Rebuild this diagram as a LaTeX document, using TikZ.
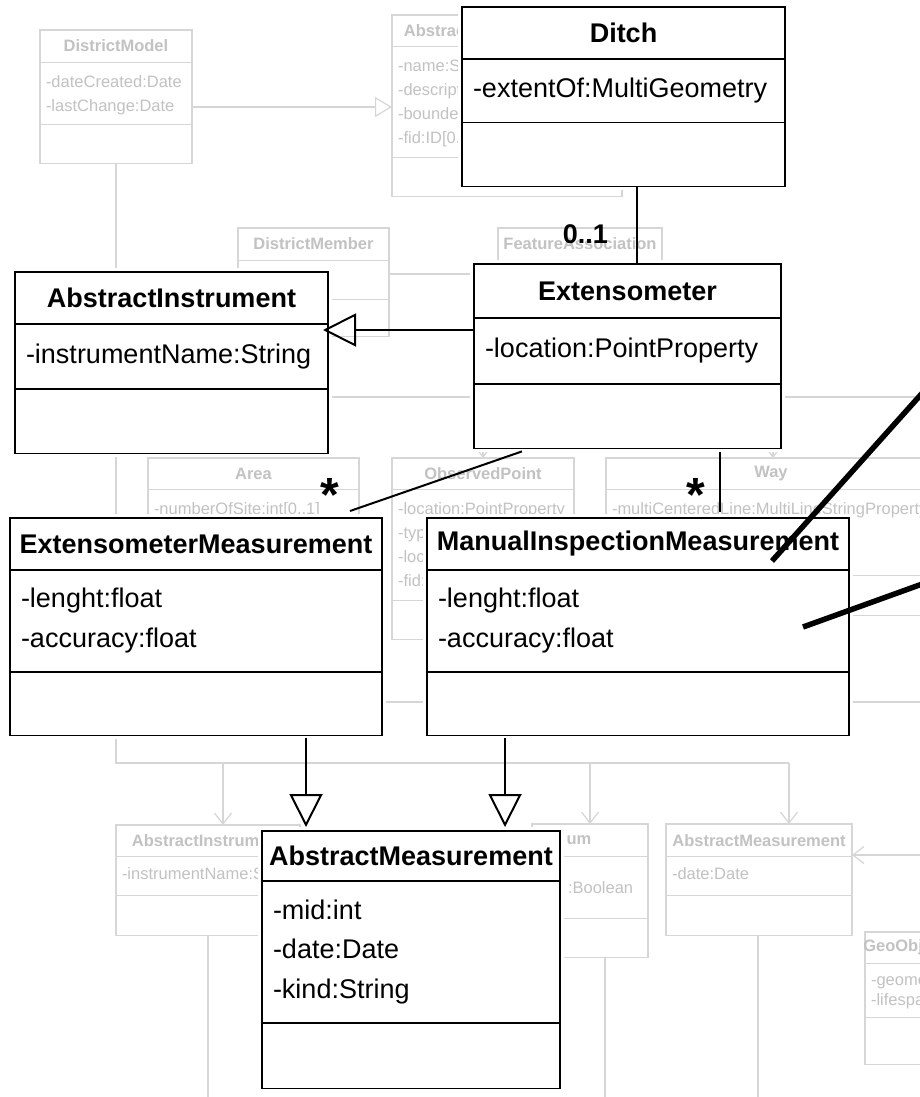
\documentclass[tikz,border=0pt]{standalone}
\usepackage{fontspec}
\setmainfont{Liberation Sans}
\usetikzlibrary{shapes.multipart,arrows.meta}
\newcommand{\cpt}[4][c]{\parbox[c][#3][#1]{#2}{#4}}
\newcommand{\ttl}[3]{\parbox[c][#2][c]{#1}{\centering\makebox[0pt]{\bfseries #3}}}
\begin{document}
\begin{tikzpicture}[x=1pt, y=-1pt,
    cls/.style={rectangle split, rectangle split parts=3, draw, fill=white, line width=1.8pt, inner xsep=11pt, inner ysep=0pt, outer sep=0pt, anchor=north west, font=\fontsize{27}{39.5}\selectfont, preaction={draw=white, line width=8pt}},
    gcls/.style={rectangle split, rectangle split parts=3, draw=black!16, fill=white, line width=1.2pt, text=black!24, inner xsep=6pt, inner ysep=0pt, outer sep=0pt, anchor=north west, font=\fontsize{16.5}{24}\selectfont},
    gline/.style={draw=black!16, line width=1.2pt},
    garrow/.style={gline, -{Straight Barb[length=11pt, width=17pt]}},
    ggen/.style={gline, -{Triangle[open, length=17pt, width=20pt]}},
    assoc/.style={line width=2pt},
    gen/.style={line width=1.5pt, -{Triangle[open, length=33pt, width=33pt, line width=2pt]}},
    lbl/.style={font=\bfseries\fontsize{27}{27}\selectfont, inner sep=0pt},
    mult/.style={font=\bfseries\fontsize{48}{48}\selectfont, inner sep=0pt},
    pointer/.style={line width=5.5pt}]
\clip (0,0) rectangle (920,1097);
\useasboundingbox (0,0) rectangle (920,1097);
\fill[white] (0,0) rectangle (920,1097);

\coordinate (busL) at (116,763);
\coordinate (busR) at (789,763);
\coordinate (s1) at (300,397);
\coordinate (s2) at (200,702);
\coordinate (e1) at (930,397);
\coordinate (e2) at (930,702);
\coordinate (e3) at (0,1100);
\coordinate (e4) at (930,855);

\node[gcls] (dm) at (40,30) {\ttl{140pt}{31pt}{DistrictModel}\nodepart{two}\cpt[t]{140pt}{61pt}{\vspace*{13pt}\mbox{-dateCreated:Date}\\\mbox{-lastChange:Date}}\nodepart{three}\cpt{140pt}{38pt}{}};
\node[gcls] (af) at (392,15) {\ttl{218pt}{30pt}{AbstractFeatureCollection}\nodepart{two}\cpt[t]{218pt}{110pt}{\vspace*{13pt}-name:String\\-description:String\\-boundedBy:Envelope\\-fid:ID[0..1]}\nodepart{three}\cpt{218pt}{38pt}{}};
\node[gcls] (dmem) at (238,228) {\ttl{139pt}{31pt}{DistrictMember}\nodepart{two}\cpt{139pt}{38pt}{}\nodepart{three}\cpt{139pt}{36pt}{}};
\node[gcls] (fa) at (498,228) {\ttl{152pt}{31pt}{FeatureAssociation}\nodepart{two}\cpt{152pt}{70pt}{}\nodepart{three}\cpt{152pt}{70pt}{}};

\draw[ggen] ([yshift=-77pt]dm.north east) -- ([yshift=-77pt]dm.north east -| af.north west);
\draw[gline] ([xshift=76pt]dm.south west) -- (busL) -- (busR);
\draw[gline] ([yshift=-46pt]dmem.north east) -- ([yshift=-46pt]dmem.north east -| fa.north);
\draw[gline] (s1) -- (e1);
\draw[gline] (s2) -- (e2);

\node[gcls] (area) at (148,458) {\ttl{199pt}{30pt}{Area}\nodepart{two}\cpt[t]{199pt}{110pt}{\vspace*{13pt}\mbox{-numberOfSite:int[0..1]}}\nodepart{three}\cpt{199pt}{38pt}{}};
\node[gcls] (op) at (392,458) {\ttl{170pt}{30pt}{ObservedPoint}\nodepart{two}\cpt[t]{170pt}{110pt}{\vspace*{13pt}\mbox{-location:PointProperty}\\-type:String\\-locName:String\\-fid:String}\nodepart{three}\cpt{170pt}{38pt}{}};
\node[gcls] (way) at (606,458) {\ttl{318pt}{30pt}{Way}\nodepart{two}\cpt[t]{318pt}{85pt}{\vspace*{13pt}\mbox{-multiCenteredLine:MultiLineStringProperty}}\nodepart{three}\cpt{318pt}{39pt}{}};

\node[gcls] (gai) at (116,825) {\ttl{172pt}{30pt}{AbstractInstrument}\nodepart{two}\cpt[t]{172pt}{38pt}{\vspace*{11pt}\mbox{-instrumentName:String}}\nodepart{three}\cpt{172pt}{39pt}{}};
\node[gcls] (gum) at (532,824) {\cpt{104pt}{31pt}{\centering\makebox[0pt]{\bfseries um}\hspace*{22pt}}\nodepart{two}\cpt[t]{104pt}{61pt}{\vspace*{13pt}\mbox{}\\\hspace*{30pt}:Boolean}\nodepart{three}\cpt{104pt}{38pt}{}};
\node[gcls] (gam) at (666,824) {\ttl{174pt}{31pt}{AbstractMeasurement}\nodepart{two}\cpt[t]{174pt}{38pt}{\vspace*{11pt}-date:Date}\nodepart{three}\cpt{174pt}{39pt}{}};
\node[gcls] (geo) at (865,932) {\ttl{68pt}{30pt}{GeoObject}\nodepart{two}\cpt[t]{68pt}{53pt}{\vspace*{10pt}\mbox{-geometry:Geometry}\\[-4pt]\mbox{-lifespan:Date}}\nodepart{three}\cpt{68pt}{46pt}{}};

\draw[garrow] ([yshift=15pt]op.north) -- (op.north);
\draw[garrow] ([xshift=2pt, yshift=15pt]way.north) -- ([xshift=2pt]way.north);
\draw[garrow] ([xshift=107pt]busL) -- ([xshift=107pt]busL |- gai.north);
\draw[garrow] ([xshift=474pt]busL) -- ([xshift=474pt]busL |- gum.north);
\draw[garrow] (busR) -- (busR |- gam.north);
\draw[garrow] (e4) -- ([yshift=-31pt]gam.north east);
\draw[gline] ([xshift=92pt]gai.south west) -- ([xshift=92pt]gai.south west |- e3);
\draw[gline] ([xshift=73pt]gum.south west) -- ([xshift=73pt]gum.south west |- e3);
\draw[gline] ([xshift=92pt]gam.south west) -- ([xshift=92pt]gam.south west |- e3);

\node[cls] (ditch) at (462,7) {\ttl{301pt}{50pt}{Ditch}\nodepart{two}\cpt{301pt}{62pt}{-extentOf:MultiGeometry}\nodepart{three}\cpt{301pt}{62pt}{}};
\node[cls] (ext) at (474,264) {\ttl{285pt}{52pt}{Extensometer}\nodepart{two}\cpt{285pt}{64pt}{-location:PointProperty}\nodepart{three}\cpt{285pt}{63pt}{}};
\node[cls] (ai) at (15,272) {\ttl{291pt}{50pt}{AbstractInstrument}\nodepart{two}\cpt{291pt}{63pt}{-instrumentName:String}\nodepart{three}\cpt{291pt}{63pt}{}};
\node[cls] (emeas) at (10,518) {\ttl{350pt}{50pt}{ExtensometerMeasurement}\nodepart{two}\cpt{350pt}{100pt}{-lenght:float\\-accuracy:float}\nodepart{three}\cpt{350pt}{62pt}{}};
\node[cls] (mim) at (427,518) {\ttl{400pt}{50pt}{ManualInspectionMeasurement}\nodepart{two}\cpt{400pt}{100pt}{-lenght:float\\-accuracy:float}\nodepart{three}\cpt{400pt}{62pt}{}};
\node[cls] (absm) at (262,831) {\ttl{276pt}{48pt}{AbstractMeasurement}\nodepart{two}\cpt{276pt}{140pt}{-mid:int\\-date:Date\\-kind:String}\nodepart{three}\cpt{276pt}{64pt}{}};

\draw[assoc] ([xshift=175pt]ditch.south west) -- ([xshift=175pt]ditch.south west |- ext.north) node[lbl, anchor=south east, xshift=-28pt, yshift=19pt] {0..1};
\draw[gen, line width=2pt, shorten >=-5pt] ([yshift=-66pt]ext.north west) -- ([yshift=-66pt]ext.north west -| ai.north east);
\draw[assoc] ([xshift=48pt, yshift=-3pt]ext.south west) -- ([xshift=-32pt, yshift=7pt]emeas.north east) node[mult, anchor=north, xshift=-20pt, yshift=34pt] {*};
\draw[assoc, shorten <=4pt, shorten >=6pt] ([xshift=246pt]ext.south west) -- ([xshift=246pt]ext.south west |- mim.north) node[mult, anchor=north, xshift=-24pt, yshift=41pt] {*};
\draw[gen, shorten <=3pt, shorten >=4pt] ([xshift=296pt]emeas.south west) -- ([xshift=296pt]emeas.south west |- absm.north);
\draw[gen, shorten <=3pt, shorten >=4pt] ([xshift=78pt]mim.south west) -- ([xshift=78pt]mim.south west |- absm.north);

\coordinate (p1) at (925,390);
\coordinate (p2) at (925,583);
\draw[pointer] (p1) -- ([xshift=-77pt, yshift=-43pt]mim.north east);
\draw[pointer] (p2) -- ([xshift=-46pt, yshift=-109pt]mim.north east);
\end{tikzpicture}
\end{document}
